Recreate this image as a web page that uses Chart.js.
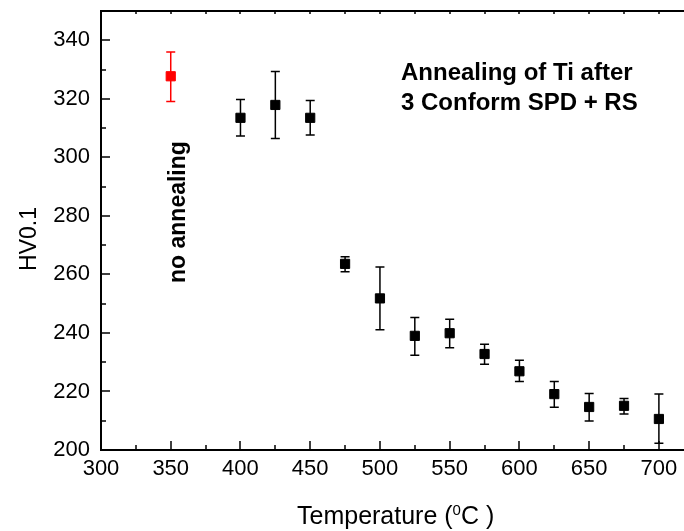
<!DOCTYPE html>
<html>
<head>
<meta charset="utf-8">
<script src="https://cdn.jsdelivr.net/npm/chart.js@4.4.1/dist/chart.umd.min.js"></script>
<style>
body { margin: 0; background: #fff; overflow: hidden; }
</style>
</head>
<body>
<canvas id="hardness" width="684" height="531"></canvas>
<script>
// annealed samples: temperature, mean hardness, top and bottom of error bar
const temps = [400, 425, 450, 475, 500, 525, 550, 575, 600, 625, 650, 675, 700]
const hv = [313.5, 317.9, 313.5, 263.6, 251.8, 239.0, 239.9, 232.8, 226.9, 219.1, 214.7, 215.1, 210.6]
const hvHigh = [319.8, 329.3, 319.4, 266.0, 262.5, 245.3, 244.7, 236.1, 230.7, 223.4, 219.3, 217.6, 219.1]
const hvLow = [307.3, 306.4, 307.6, 260.9, 241.1, 232.4, 234.9, 229.3, 223.4, 214.6, 209.9, 212.3, 202.3]

// as processed, no annealing
const refTemp = [350]
const refHv = [327.7]
const refHigh = [336.0]
const refLow = [319.1]

const xTicks = [300, 350, 400, 450, 500, 550, 600, 650, 700]
const yTicks = [200, 220, 240, 260, 280, 300, 320, 340]

const FONT = "'Liberation Sans', Arial, sans-serif"
Chart.defaults.font.family = FONT
Chart.defaults.color = '#000'

function points(xs, ys, hi, lo) {
    return xs.map((t, i) => ({ x: t, y: ys[i], hi: hi[i], lo: lo[i] }))
}

// vertical error bars with caps, drawn under the markers
const errorBars = {
    id: 'errorBars',
    beforeDatasetsDraw(chart) {
        const ctx = chart.ctx
        const sx = chart.scales.x, sy = chart.scales.y
        chart.data.datasets.forEach(ds => {
            ctx.save()
            ctx.strokeStyle = ds.borderColor
            ctx.lineWidth = 1.5
            ds.data.forEach(p => {
                const px = sx.getPixelForValue(p.x)
                const top = sy.getPixelForValue(p.hi)
                const bot = sy.getPixelForValue(p.lo)
                ctx.beginPath()
                ctx.moveTo(px, top); ctx.lineTo(px, bot)
                ctx.moveTo(px - 4.5, top); ctx.lineTo(px + 4.5, top)
                ctx.moveTo(px - 4.5, bot); ctx.lineTo(px + 4.5, bot)
                ctx.stroke()
            })
            ctx.restore()
        })
    }
}

// top border and inward tick marks (major + minor)
const frame = {
    id: 'frame',
    afterDraw(chart) {
        const ctx = chart.ctx
        const a = chart.chartArea
        const sx = chart.scales.x, sy = chart.scales.y
        ctx.save()
        ctx.strokeStyle = '#000'
        ctx.lineWidth = 2
        ctx.beginPath()
        ctx.moveTo(a.left - 1, a.top); ctx.lineTo(a.right, a.top)
        ctx.stroke()

        ctx.lineWidth = 1.5
        ctx.beginPath()
        for (let v = xTicks[0]; v <= sx.max; v += 25) {
            const px = Math.round(sx.getPixelForValue(v))
            const len = (v % 50 === 0) ? 9 : 5
            ctx.moveTo(px, a.bottom); ctx.lineTo(px, a.bottom - len)
            ctx.moveTo(px, a.top); ctx.lineTo(px, a.top + 3)
        }
        for (let v = yTicks[0]; v <= sy.max; v += 10) {
            const py = Math.round(sy.getPixelForValue(v))
            const len = (v % 20 === 0) ? 9 : 5
            ctx.moveTo(a.left, py); ctx.lineTo(a.left + len, py)
        }
        ctx.stroke()
        ctx.restore()
    }
}

// axis titles and the two notes
const labels = {
    id: 'labels',
    afterDraw(chart) {
        const ctx = chart.ctx
        ctx.save()
        ctx.fillStyle = '#000'
        ctx.textBaseline = 'alphabetic'
        ctx.textAlign = 'left'

        ctx.font = 'bold 24px ' + FONT
        ctx.fillText('Annealing of Ti after', 401, 80)
        ctx.fillText('3 Conform SPD + RS', 401, 110)

        ctx.save()
        ctx.translate(185, 283)
        ctx.rotate(-Math.PI / 2)
        ctx.font = 'bold 23px ' + FONT
        ctx.fillText('no annealing', 0, 0)
        ctx.restore()

        ctx.save()
        ctx.translate(36, 239)
        ctx.rotate(-Math.PI / 2)
        ctx.textAlign = 'center'
        ctx.font = '23px ' + FONT
        ctx.fillText('HV0.1', 0, 0)
        ctx.restore()

        let x = 297
        const base = 524
        ctx.font = '25px ' + FONT
        ctx.fillText('Temperature (', x, base)
        x += ctx.measureText('Temperature (').width
        ctx.font = '15px ' + FONT
        ctx.fillText('0', x, base - 9)
        x += ctx.measureText('0').width
        ctx.font = '25px ' + FONT
        ctx.fillText('C )', x, base)
        ctx.restore()
    }
}

const canvas = document.getElementById('hardness')
const chart = new Chart(canvas, {
    type: 'scatter',
    data: {
        datasets: [
            {
                label: 'no annealing',
                data: points(refTemp, refHv, refHigh, refLow),
                backgroundColor: '#ff0000',
                borderColor: '#ff0000',
                pointStyle: 'rect',
                pointRadius: 6.5,
                borderWidth: 1
            },
            {
                label: 'annealed',
                data: points(temps, hv, hvHigh, hvLow),
                backgroundColor: '#000',
                borderColor: '#000',
                pointStyle: 'rect',
                pointRadius: 6.5,
                borderWidth: 1
            }
        ]
    },
    options: {
        responsive: false,
        animation: false,
        layout: { autoPadding: false, padding: { top: 11, left: 0, right: 0, bottom: 0 } },
        plugins: {
            legend: { display: false },
            tooltip: { enabled: false }
        },
        scales: {
            x: {
                type: 'linear',
                min: 300,
                max: 718,
                afterFit: s => {
                    s.height = 81
                    s.paddingLeft = 0
                    s.paddingRight = 0
                },
                afterBuildTicks: s => { s.ticks = xTicks.map(v => ({ value: v })) },
                grid: { display: false, drawTicks: false },
                border: { display: true, color: '#000', width: 2 },
                ticks: { padding: 6, font: { size: 22 }, maxRotation: 0 }
            },
            y: {
                min: 200,
                max: 350,
                afterFit: s => {
                    s.width = 101
                    s.paddingTop = 0
                    s.paddingBottom = 0
                },
                afterBuildTicks: s => { s.ticks = yTicks.map(v => ({ value: v })) },
                grid: { display: false, drawTicks: false },
                border: { display: true, color: '#000', width: 2 },
                ticks: { padding: 11, font: { size: 22 } }
            }
        }
    },
    plugins: [errorBars, frame, labels]
})
</script>
</body>
</html>
